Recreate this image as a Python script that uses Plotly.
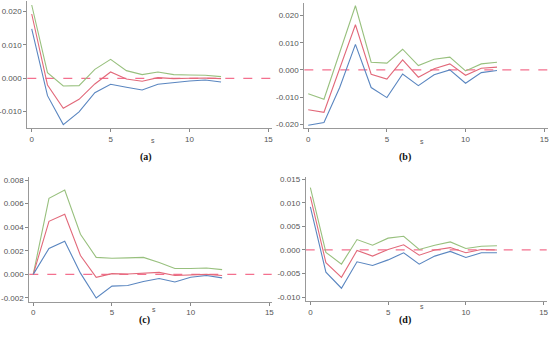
import plotly.graph_objects as go

steps = list(range(13))

# Panel (a)
a_upper = [0.022, 0.0017, -0.0023, -0.0022, 0.0027, 0.0057, 0.0023, 0.0011, 0.0019, 0.0011, 0.0010, 0.0009, 0.0005]
a_mid = [0.0193, -0.0020, -0.0090, -0.0063, -0.0017, 0.0019, -0.0002, -0.0009, 0.0002, -0.0001, 0.0000, 0.0001, -0.0001]
a_lower = [0.0148, -0.0052, -0.0139, -0.0101, -0.0043, -0.0018, -0.0027, -0.0035, -0.0018, -0.0012, -0.0008, -0.0005, -0.0011]

# Panel (b)
b_upper = [-0.0088, -0.0108, 0.0064, 0.0236, 0.0028, 0.0025, 0.0076, 0.0016, 0.0039, 0.0047, -0.0004, 0.0022, 0.0028]
b_mid = [-0.0147, -0.0156, 0.0005, 0.0166, -0.0016, -0.0034, 0.0037, -0.0027, 0.0004, 0.0022, -0.0020, 0.0006, 0.0010]
b_lower = [-0.0204, -0.0194, -0.0065, 0.0094, -0.0065, -0.0102, -0.0015, -0.0058, -0.0018, 0.0000, -0.0049, -0.0010, -0.0002]

# Panel (c)
c_upper = [0.0, 0.00645, 0.00715, 0.0034, 0.00144, 0.00136, 0.0014, 0.00144, 0.0010, 0.0005, 0.0005, 0.00054, 0.0004]
c_mid = [0.0, 0.0045, 0.0051, 0.0016, -0.00025, 0.00006, 0.00003, 0.0001, 0.00017, -0.0001, -0.00005, 0.0, -0.0001]
c_lower = [0.0, 0.0022, 0.0028, 0.0001, -0.0020, -0.0010, -0.00095, -0.0006, -0.00035, -0.00065, -0.00025, -0.0001, -0.0003]

# Panel (d)
d_upper = [0.0132, -0.0005, -0.0030, 0.0022, 0.0010, 0.0025, 0.0029, 0.0001, 0.0010, 0.0017, 0.0003, 0.0008, 0.0009]
d_mid = [0.0113, -0.0027, -0.0058, -0.0001, -0.0013, 0.0001, 0.0011, -0.0011, 0.0, 0.0005, -0.0006, 0.0001, 0.0]
d_lower = [0.0091, -0.0047, -0.0081, -0.0025, -0.0033, -0.0021, -0.0006, -0.0030, -0.0013, -0.0003, -0.0016, -0.0006, -0.0006]

x_ticks = [0, 5, 10, 15]
x_ticktext = ["0", "5", "10", "15"]

a_yticks = [-0.010, 0.0, 0.010, 0.020]
a_yticktext = ["-0.010", "0.000", "0.010", "0.020"]
b_yticks = [-0.020, -0.010, 0.0, 0.010, 0.020]
b_yticktext = ["-0.020", "-0.010", "0.000", "0.010", "0.020"]
c_yticks = [-0.002, 0.0, 0.002, 0.004, 0.006, 0.008]
c_yticktext = ["-0.002", "0.000", "0.002", "0.004", "0.006", "0.008"]
d_yticks = [-0.010, -0.005, 0.0, 0.005, 0.010, 0.015]
d_yticktext = ["-0.010", "-0.005", "0.000", "0.005", "0.010", "0.015"]

panel_labels = ["(a)", "(b)", "(c)", "(d)"]

W, H = 550, 337
BLUE = "#5a86c0"
RED = "#e2697a"
GREEN = "#98c07e"
DASH = "#f4708e"

panels = [
    dict(upper=a_upper, mid=a_mid, lower=a_lower, yt=a_yticks, ytt=a_yticktext,
         px=(27.3, 272.0), py=(1.0, 128.3), xr=[-0.28, 15.23], yr=[-0.015, 0.0232],
         s_x=149, stitle_y=140, lab_x=138, label_y=157),
    dict(upper=b_upper, mid=b_mid, lower=b_lower, yt=b_yticks, ytt=b_yticktext,
         px=(304.3, 548.0), py=(3.3, 128.3), xr=[-0.25, 15.24], yr=[-0.0215, 0.0245],
         s_x=426, stitle_y=141, lab_x=413, label_y=157),
    dict(upper=c_upper, mid=c_mid, lower=c_lower, yt=c_yticks, ytt=c_yticktext,
         px=(29.3, 271.7), py=(176.7, 301.7), xr=[-0.25, 15.15], yr=[-0.00232, 0.00828],
         s_x=150, stitle_y=315, lab_x=137, label_y=328),
    dict(upper=d_upper, mid=d_mid, lower=d_lower, yt=d_yticks, ytt=d_yticktext,
         px=(305.7, 546.7), py=(176.7, 301.0), xr=[-0.3, 15.2], yr=[-0.0108, 0.0155],
         s_x=426, stitle_y=312, lab_x=413, label_y=328),
]

fig = go.Figure()
layout = dict(width=W, height=H, margin=dict(l=0, r=0, t=0, b=0),
              paper_bgcolor="white", plot_bgcolor="white", showlegend=False,
              font=dict(family="Liberation Sans, Arial, sans-serif", size=8, color="#555555"))
annotations = []
shapes = []

for i, p in enumerate(panels):
    n = "" if i == 0 else str(i + 1)
    xa, ya = "x" + n, "y" + n
    for series, col in ((p["upper"], GREEN), (p["mid"], RED), (p["lower"], BLUE)):
        fig.add_trace(go.Scatter(x=steps, y=series, mode="lines", xaxis=xa, yaxis=ya,
                                 line=dict(color=col, width=1.1), hoverinfo="skip"))
    x0, x1 = p["px"]
    top, bot = p["py"]
    layout["xaxis" + n] = dict(domain=[x0 / W, x1 / W], anchor=ya, range=p["xr"],
                               tickvals=x_ticks, ticktext=x_ticktext, ticks="outside",
                               ticklen=3, tickcolor="#888888", showline=True,
                               linecolor="#999999", linewidth=1, showgrid=False,
                               zeroline=False, automargin=False, ticklabeloverflow="allow",
                               tickfont=dict(size=8, color="#555555"))
    layout["yaxis" + n] = dict(domain=[(H - bot) / H, (H - top) / H], anchor=xa,
                               range=p["yr"], tickvals=p["yt"], ticktext=p["ytt"],
                               ticks="outside", ticklen=3, tickcolor="#888888",
                               showline=True, linecolor="#999999", linewidth=1,
                               showgrid=False, zeroline=False, automargin=False,
                               ticklabeloverflow="allow",
                               tickfont=dict(size=8, color="#555555"))
    shapes.append(dict(type="line", xref=xa + " domain", yref=ya, x0=0, x1=1, y0=0, y1=0,
                       line=dict(color=DASH, width=1.2, dash="dash"), layer="below"))
    annotations.append(dict(text="s", x=p["s_x"] / W, y=(H - p["stitle_y"]) / H,
                            xref="paper", yref="paper", showarrow=False,
                            font=dict(size=7, color="#555555")))
    annotations.append(dict(text="<b>" + panel_labels[i] + "</b>", x=p["lab_x"] / W,
                            y=(H - p["label_y"]) / H, xref="paper", yref="paper",
                            showarrow=False,
                            font=dict(family="Liberation Serif, Times New Roman, serif",
                                      size=10, color="#111111")))

layout["annotations"] = annotations
layout["shapes"] = shapes
fig.update_layout(**layout)
fig.write_html("out.html", config={"displayModeBar": False},
               post_script="document.body.style.margin='0';document.body.style.padding='0';")
